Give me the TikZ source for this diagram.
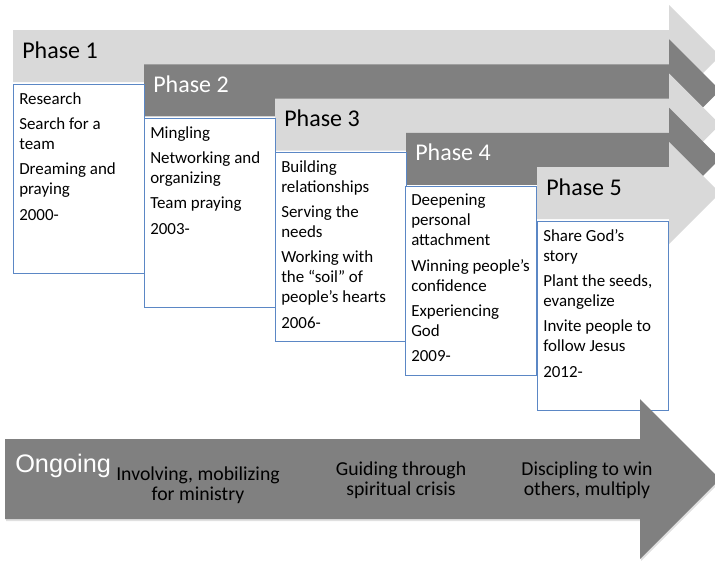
\documentclass[tikz,border=0pt]{standalone}
\usepackage{fontspec}
\setmainfont{Carlito}
\newfontfamily\ongoingfont{Liberation Sans}
\definecolor{barlight}{HTML}{D9D9D9}
\definecolor{bardark}{HTML}{808080}
\definecolor{boxblue}{HTML}{5B87C5}
\tikzset{
  phasetxt/.style={anchor=base west, inner sep=0pt, font=\fontsize{18}{21}\selectfont},
  boxframe/.style={draw=boxblue, line width=0.75pt, fill=white, anchor=north west,
    inner sep=0pt, minimum width=98.25pt, minimum height=141.75pt},
  boxtxt/.style={anchor=north west, align=flush left, text width=95pt, inner xsep=4.5pt,
    inner ysep=6pt, font=\fontsize{12.7}{15}\selectfont},
  ongoingtxt/.style={align=center, font=\fontsize{14.8}{15.2}\selectfont}
}
\begin{document}
\begin{tikzpicture}[x=0.75pt,y=-0.75pt]
  \useasboundingbox (0,0) rectangle (715,561);
  \clip (0,0) rectangle (715,561);
  % phase arrows
  \foreach \i/\barcol/\ink in {1/barlight/black,2/bardark/white,3/barlight/black,4/bardark/white,5/barlight/black}{
    \pgfmathsetmacro{\xl}{13+131*(\i-1)}
    \pgfmathsetmacro{\yt}{30+34.25*(\i-1)}
    \fill[\barcol] (\xl,\yt) -- (669,\yt) -- (669,\yt-25) -- (720,\yt+26)
      -- (669,\yt+77) -- (669,\yt+52) -- (\xl,\yt+52) -- cycle;
    \node[phasetxt, text=\ink] (p\i) at (\xl+9,\yt+28) {Phase \i};
  }
  % boxes
  \node[boxframe] (b1) at (13,84) {};
  \node[boxframe] (b2) at (144,118) {};
  \node[boxframe] (b3) at (275,152) {};
  \node[boxframe] (b4) at (405,186) {};
  \node[boxframe] (b5) at (537,221) {};
  \node[boxtxt] (t1) at (b1.north west) {Research\\[4pt] Search for a\\team\\[4pt] Dreaming and\\praying\\[4pt] 2000-};
  \node[boxtxt] (t2) at (b2.north west) {Mingling\\[4pt] Networking and\\organizing\\[4pt] Team praying\\[4pt] 2003-};
  \node[boxtxt] (t3) at (b3.north west) {Building\\relationships\\[4pt] Serving the\\needs\\[4pt] Working with\\the “soil” of\\people’s hearts\\[4pt] 2006-};
  \node[boxtxt] (t4) at (b4.north west) {Deepening\\personal\\attachment\\[4pt] Winning people’s\\confidence\\[4pt] Experiencing\\God\\[4pt] 2009-};
  \node[boxtxt] (t5) at (b5.north west) {Share God’s\\story\\[4pt] Plant the seeds,\\evangelize\\[4pt] Invite people to\\follow Jesus\\[4pt] 2012-};
  % ongoing arrow
  \fill[black!12] (6,441) -- (641,441) -- (641,401) -- (721,481) -- (641,561) -- (641,521) -- (6,521) -- cycle;
  \fill[bardark] (5,439) -- (640,439) -- (640,399) -- (720,479) -- (640,559) -- (640,519) -- (5,519) -- cycle;
  \node[anchor=base west, inner sep=0pt, text=white, font=\ongoingfont\fontsize{19}{22}\selectfont] (og) at (15,472) {Ongoing};
  \node[ongoingtxt] (o1) at (198,485) {Involving, mobilizing\\for ministry};
  \node[ongoingtxt] (o2) at (401,480) {Guiding through\\spiritual crisis};
  \node[ongoingtxt] (o3) at (587,480) {Discipling to win\\others, multiply};
\end{tikzpicture}
\end{document}
